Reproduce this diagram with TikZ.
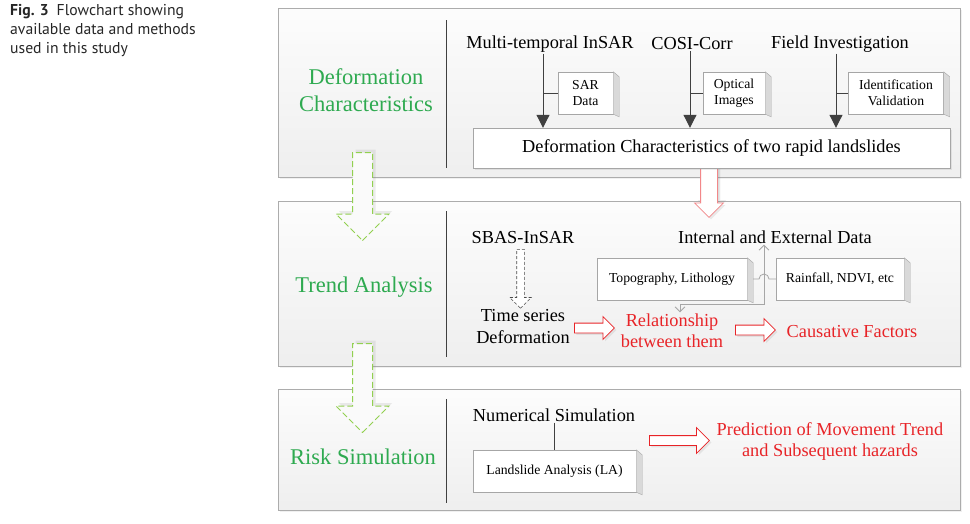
\documentclass[tikz,border=0pt]{standalone}
\usepackage{fontspec}
\setmainfont{Liberation Serif}
\newfontfamily\capfont{PT Sans}
\usepackage{tikz}
\usetikzlibrary{positioning, shapes.arrows, shadows, arrows.meta}

\definecolor{phasegreen}{RGB}{46,170,80}
\definecolor{dashgreen}{RGB}{146,208,80}
\definecolor{flowred}{RGB}{232,36,40}
\definecolor{linegray}{RGB}{64,64,64}

\tikzset{
  panel/.style={draw=gray!65, top color=gray!2, bottom color=gray!13, minimum width=682,
    drop shadow={shadow xshift=2pt, shadow yshift=-2pt, opacity=0.12}},
  phase/.style={text=phasegreen, font=\fontsize{22.5}{27}\selectfont, align=center},
  lbl/.style={font=\fontsize{18.3}{22}\selectfont, align=center, inner sep=1pt},
  redlbl/.style={lbl, text=flowred, font=\fontsize{18.3}{21}\selectfont},
  slab/.style={draw=gray!70, fill=white, font=\fontsize{13.7}{16}\selectfont, align=center,
    minimum height=42, inner sep=2pt},
  side/.style={draw=gray!70, fill=gray!30},
  fat/.style={draw=linegray, line width=1pt, -{Triangle[length=13pt, width=13pt]}},
  stem/.style={draw=linegray, line width=0.8pt},
  greenarr/.style={single arrow, draw=dashgreen, dash pattern=on 6pt off 3pt, line width=1pt,
    fill=gray!4, rotate=-90, anchor=tail, minimum height=88, minimum width=52,
    single arrow head extend=16.5, inner xsep=0pt, inner ysep=9.5pt,
    drop shadow={shadow xshift=3pt, shadow yshift=3pt, opacity=0.15}},
  grayarr/.style={single arrow, draw=gray!60!black, dash pattern=on 3pt off 2pt, line width=0.6pt,
    fill=white, rotate=-90, anchor=tail, minimum height=59, minimum width=21,
    single arrow head extend=7, inner xsep=0pt, inner ysep=3.5pt},
  redarr/.style={single arrow, draw=flowred, line width=0.8pt, fill=white, anchor=tail,
    inner xsep=0pt, inner ysep=4.5pt, minimum height=40, minimum width=22, single arrow head extend=6.5,
    drop shadow={shadow xshift=2pt, shadow yshift=-2pt, opacity=0.15}},
  barb/.tip={Straight Barb[length=5pt, width=10pt]}
}

\begin{document}
\begin{tikzpicture}[x=1pt, y=-1pt]
  \useasboundingbox (0,0) rectangle (970,523);

  % caption
  \node[anchor=north west, align=left, inner sep=0pt, text=black!85,
        font=\capfont\fontsize{15.7}{19}\selectfont] (cap) at (10,4)
    {\textbf{Fig. 3}\enspace Flowchart showing\\available data and methods\\used in this study};

  % the three stages
  \node[panel, minimum height=169] (p1) at (619,92.5) {};
  \node[panel, minimum height=165] (p2) at (619,283.5) {};
  \node[panel, minimum height=121] (p3) at (619,449.5) {};
  \draw[linegray] (446,20) -- (446,168);
  \draw[linegray] (446,211) -- (446,357);
  \draw[linegray] (446,399) -- (446,503);

  \node[phase] (ph1) at (366,90) {Deformation\\Characteristics};
  \node[phase] (ph2) at (364,287) {Trend Analysis};
  \node[phase] (ph3) at (363,457) {Risk Simulation};
  \node[greenarr] (g1) at (362.5,152) {};
  \node[greenarr, minimum height=89] (g2) at (362.5,343) {};

  % deformation characteristics
  \node[lbl] (mti) at (550,44) {Multi-temporal InSAR};
  \node[lbl] (cosi) at (692,44) {COSI-Corr};
  \node[lbl] (fld) at (840,44) {Field Investigation};
  \node[slab, minimum width=55] (sar) at (585.5,93) {SAR\\Data};
  \node[slab, minimum width=62] (opt) at (734,93) {Optical\\Images};
  \node[slab, minimum width=95] (idv) at (896,93) {Identification\\Validation};
  \fill[side] (sar.north east) -- ++(6,5) -- ++(0,40) -- (sar.south east) -- cycle;
  \fill[side] (opt.north east) -- ++(6,5) -- ++(0,40) -- (opt.south east) -- cycle;
  \fill[side] (idv.north east) -- ++(6,5) -- ++(0,40) -- (idv.south east) -- cycle;
  \node[redarr, rotate=-90, draw=flowred!55, minimum height=54, minimum width=28, inner ysep=8pt,
        single arrow head extend=6, drop shadow={shadow xshift=3pt, shadow yshift=3pt, opacity=0.15}]
    (r0) at (709,163) {};
  \node[lbl, draw=gray!70, fill=white, minimum width=477, minimum height=40,
        drop shadow={shadow xshift=2pt, shadow yshift=-2pt, opacity=0.15}] (dcl) at (711.5,148)
    {Deformation Characteristics of two rapid landslides};

  \coordinate (s1) at ([xshift=-7pt]mti.south);
  \coordinate (s2) at ([xshift=-2pt]cosi.south);
  \coordinate (s3) at ([xshift=-4pt]fld.south);
  \draw[fat] (s1) -- (s1 |- dcl.north);
  \draw[fat] (s2) -- (s2 |- dcl.north);
  \draw[fat] (s3) -- (s3 |- dcl.north);
  \draw[stem] (sar.west) -- (sar.west -| s1);
  \draw[stem] (opt.west) -- (opt.west -| s2);
  \draw[stem] (idv.west) -- (idv.west -| s3);

  % trend analysis
  \node[lbl] (sbas) at (523,238) {SBAS-InSAR};
  \node[lbl] (ts) at (523,327) {Time series\\Deformation};
  \node[grayarr] (d1) at (520.5,249) {};
  \node[lbl] (ied) at (775,237) {Internal and External Data};
  \node[slab, minimum width=150] (topo) at (672,279) {Topography, Lithology};
  \node[slab, minimum width=128] (rain) at (840,279) {Rainfall, NDVI, etc};
  \fill[side] (topo.north east) -- ++(6,5) -- ++(0,40) -- (topo.south east) -- cycle;
  \fill[side] (rain.north east) -- ++(6,5) -- ++(0,40) -- (rain.south east) -- cycle;
  \node[redlbl] (rel) at (672,330.5) {Relationship\\between them};
  \node[redlbl] (caus) at (852,332) {Causative Factors};
  \node[redarr] (r1) at (574,328) {};
  \node[redarr] (r2) at (735,330) {};

  \coordinate (hub) at (764,304);
  \coordinate (hop) at (hub |- topo.east);
  \draw[stem, draw=gray!70] ([xshift=6pt]topo.east) -- ([xshift=-5pt]hop)
    arc[start angle=180, end angle=360, radius=5] -- (rain.west);
  \draw[stem, draw=gray!70, barb-barb] ([xshift=8pt]rel.north) |- (hub) -- (hub |- ied.south);

  % risk simulation
  \node[lbl] (num) at (554,415) {Numerical Simulation};
  \node[slab, minimum width=163] (la) at (554.5,471) {Landslide Analysis (LA)};
  \fill[side] (la.north east) -- ++(6,5) -- ++(0,40) -- (la.south east) -- cycle;
  \draw[stem] (num.south) -- (num.south |- la.north);
  \node[redarr, minimum height=60, minimum width=25, single arrow head extend=8] (r3) at (649,440.5) {};
  \node[redlbl] (pred) at (830,441.5) {Prediction of Movement Trend\\and Subsequent hazards};
\end{tikzpicture}
\end{document}
